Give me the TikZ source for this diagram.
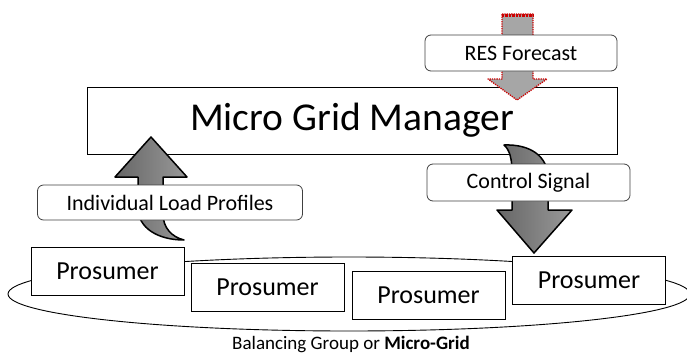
\documentclass[tikz,border=0pt]{standalone}
\usepackage{fontspec}
\setmainfont{Carlito}
\begin{document}
\begin{tikzpicture}[x=1pt,y=-1pt,
  pbox/.style={draw=black, fill=white, line width=0.8pt, inner sep=0pt,
    minimum width=153pt, minimum height=48pt, font=\fontsize{26}{30}\selectfont},
  labelbox/.style={draw=black!75, fill=white, rounded corners=6pt, line width=0.8pt,
    inner sep=0pt, font=\fontsize{22}{26}\selectfont},
  blockarrow/.style={draw=black, line width=1.5pt, line join=round,
    left color=black!60, right color=black!40},
  forecastarrow/.style={draw=red!80!black, fill=black!35, densely dotted,
    line width=1.3pt, line join=round}]

\useasboundingbox (0,0) rectangle (687,359);

% balancing group
\draw[line width=0.9pt] (349,294) ellipse [x radius=341, y radius=37];
\node[font=\fontsize{19}{23}\selectfont] (cap) at (351,344)
  {Balancing Group or \textbf{Micro-Grid}};

% prosumers
\node[pbox] (p1) at (107.5,271.5) {Prosumer};
\node[pbox] (p2) at (267.5,287.5) {Prosumer};
\node[pbox] (p3) at (428.5,295) {Prosumer};
\node[pbox] (p4) at (589,280) {Prosumer};

% manager
\node[draw=black, fill=white, line width=0.8pt, minimum width=530pt,
  minimum height=67pt, inner sep=0pt, font=\fontsize{39.5}{44}\selectfont]
  (mgm) at (352,120.5) {Micro Grid Manager};

% forecast input arrow
\draw[forecastarrow] (502,14) -- (533,14) -- (533,79) -- (547,79) -- (517,100)
  -- (488,79) -- (502,79) -- cycle;
\draw[red!80!black, densely dotted, line width=2.4pt] (502,15.5) -- (533,15.5);

% load profiles arrow (up)
\draw[blockarrow] (151,137) -- (187,177) -- (163,177) -- (163,214)
  .. controls (163,228) and (172,237) .. (184,240)
  .. controls (158,240) and (138,228) .. (138,208)
  -- (138,177) -- (115,177) -- cycle;

% control signal arrow (down)
\draw[blockarrow] (504,145)
  .. controls (530,144) and (548,156) .. (548,178)
  -- (548,210) -- (572,210) -- (534,253) -- (497,210) -- (512,210) -- (512,172)
  .. controls (512,160) and (510,150) .. (504,145) -- cycle;

% labels
\node[labelbox, minimum width=192pt, minimum height=36pt] (res) at (521,53) {RES Forecast};
\node[labelbox, minimum width=265pt, minimum height=35pt] (ilp) at (170,202.5) {Individual Load Profiles};
\node[labelbox, minimum width=203pt, minimum height=37pt] (ctl) at (528.5,182.5) {Control Signal};
\end{tikzpicture}
\end{document}
